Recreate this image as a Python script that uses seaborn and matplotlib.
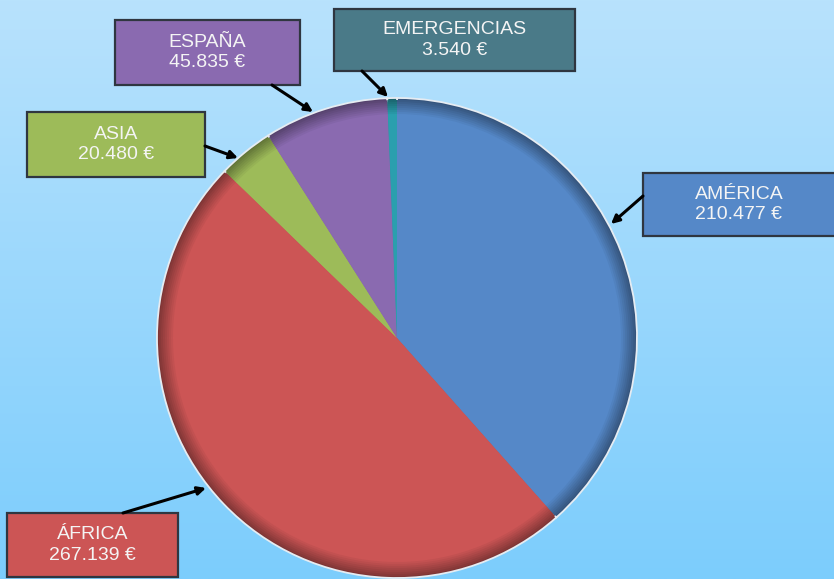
import numpy as np
import matplotlib
matplotlib.use("Agg")
import matplotlib.pyplot as plt
import seaborn as sns
from matplotlib.patches import Rectangle
from matplotlib.colors import to_rgb

sns.set_style("white")
plt.rcParams['font.family'] = ['Liberation Sans', 'DejaVu Sans']

# Data
regions = ["AMÉRICA", "ÁFRICA", "ASIA", "ESPAÑA", "EMERGENCIAS"]
amounts = [210477, 267139, 20480, 45835, 3540]
value_labels = ["210.477 €", "267.139 €", "20.480 €", "45.835 €", "3.540 €"]

slice_colors = ["#5588c8", "#cc5555", "#9dbb59", "#8a6ab0", "#2a9fae"]
box_colors = ["#5588c8", "#cc5555", "#9dbb59", "#8a6ab0", "#4a7a88"]

W, H = 834, 579
fig = plt.figure(figsize=(W / 100, H / 100), dpi=100)
ax = fig.add_axes([0, 0, 1, 1])

# background gradient
top = np.array(to_rgb("#b8e2fc"))
bot = np.array(to_rgb("#7ccdfd"))
t = np.linspace(0, 1, 256)[:, None]
grad = top * (1 - t) + bot * t
ax.imshow(grad[:, None, :], extent=[0, W, 0, H], aspect='auto', zorder=0,
          origin='upper')

def Y(y):
    return H - y

cx, cy, R = 397, Y(338), 240

def darker(c, f):
    r = np.array(to_rgb(c))
    return tuple(np.clip(r * f, 0, 1))

# outer rim gradient (darker toward edge), then main faces
steps = 9
for k in range(steps):
    f = 0.62 + 0.38 * (k / (steps - 1))
    rad = R - k * 2.0
    ax.pie(amounts, colors=[darker(c, f) for c in slice_colors], startangle=90,
           counterclock=False, center=(cx, cy), radius=rad,
           wedgeprops=dict(edgecolor="#e6ecf2" if k == 0 else "none",
                           linewidth=1.3 if k == 0 else 0),
           frame=True)
ax.set_xlim(0, W)
ax.set_ylim(0, H)
ax.set_aspect('equal')
ax.axis('off')

# label boxes: (x0, y0, x1, y1) in pixel coords (top-left origin)
boxes = [
    (643, 173, 836, 236),
    (7, 513, 178, 577),
    (27, 112, 205, 177),
    (115, 20, 300, 85),
    (334, 9, 575, 71),
]
arrows = [
    ((643, 196), (611, 224)),
    ((123, 513), (206, 488)),
    ((205, 146), (238, 158)),
    ((272, 85), (313, 112)),
    ((362, 71), (388, 97)),
]

for i, (x0, y0, x1, y1) in enumerate(boxes):
    rect = Rectangle((x0, Y(y1)), x1 - x0, y1 - y0, facecolor=box_colors[i],
                     edgecolor="#2f3640", linewidth=1.6, zorder=5)
    ax.add_patch(rect)
    ax.text((x0 + x1) / 2 if i != 0 else 739, Y((y0 + y1) / 2),
            f"{regions[i]}\n{value_labels[i]}", ha='center', va='center',
            color="#f4f4f4", fontsize=14, linespacing=1.25, zorder=6)
    (sx, sy), (ex, ey) = arrows[i]
    ax.annotate("", xy=(ex, Y(ey)), xytext=(sx, Y(sy)),
                arrowprops=dict(arrowstyle="-|>", color="black", lw=2.2,
                                mutation_scale=12, shrinkA=0, shrinkB=0),
                zorder=7)

fig.savefig("out.png", dpi=100)
